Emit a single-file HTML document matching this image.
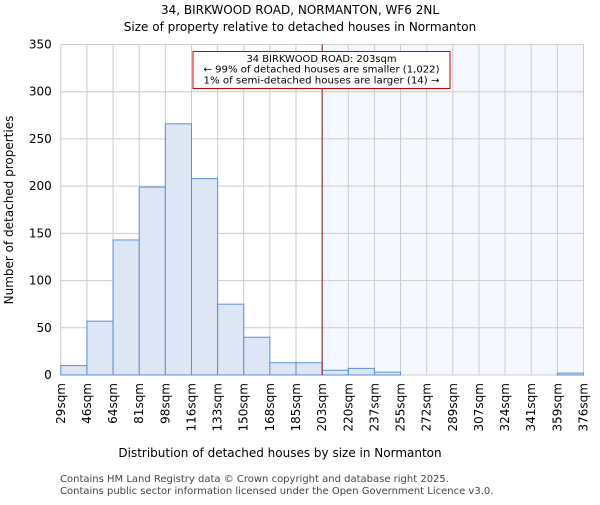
<!DOCTYPE html>
<html><head><meta charset="utf-8"><style>
body{margin:0;background:#fff;}
svg text{font-family:"DejaVu Sans","Liberation Sans",sans-serif;}
</style></head><body>
<svg id="chart" width="600" height="500">
<text x="300" y="14" text-anchor="middle" font-size="12">34, BIRKWOOD ROAD, NORMANTON, WF6 2NL</text>
<text x="300" y="31" text-anchor="middle" font-size="12">Size of property relative to detached houses in Normanton</text>
<g id="plot"></g>
<text x="280" y="457" text-anchor="middle" font-size="12">Distribution of detached houses by size in Normanton</text>
<text transform="translate(13,210) rotate(-90)" text-anchor="middle" font-size="12">Number of detached properties</text>
<text x="60" y="482" font-size="10" fill="#444">Contains HM Land Registry data © Crown copyright and database right 2025.</text>
<text x="60" y="494" font-size="10" fill="#444">Contains public sector information licensed under the Open Government Licence v3.0.</text>
</svg>
<script>
const binLabels=["29sqm","46sqm","64sqm","81sqm","98sqm","116sqm","133sqm","150sqm","168sqm","185sqm","203sqm","220sqm","237sqm","255sqm","272sqm","289sqm","307sqm","324sqm","341sqm","359sqm","376sqm"];
const counts=[10,57,143,199,266,208,75,40,13,13,5,7,3,0,0,0,0,0,0,2];
const yTicks=[0,50,100,150,200,250,300,350];
const markerBin=10;
const NS="http://www.w3.org/2000/svg";
const L=60.8,R=583.5,T=44.5,B=375,yMax=350;
const nb=counts.length, bw=(R-L)/nb;
const x=i=>L+i*bw, y=v=>B-v/yMax*(B-T);
const g=document.getElementById('plot');
function mk(t,a){const e=document.createElementNS(NS,t);for(const k in a)e.setAttribute(k,a[k]);g.appendChild(e);return e;}
let e=mk('rect',{x:x(markerBin),y:T,width:R-x(markerBin),height:B-T,fill:'#f4f7fd'});


for(let i=0;i<=nb;i++){e=mk('line',{x1:x(i),x2:x(i),y1:T,y2:B,stroke:'#ccc','stroke-width':1});

}
yTicks.forEach(v=>{e=mk('line',{x1:L,x2:R,y1:y(v),y2:y(v),stroke:'#ccc','stroke-width':1});


e=mk('text',{x:L-9,y:y(v)+4,'text-anchor':'end','font-size':12});e.textContent=v;

});
counts.forEach((c,i)=>{if(c<=0)return;e=mk('rect',{x:x(i),y:y(c),width:bw,height:B-y(c),fill:'#dce6f4',stroke:'#5b8fd6','stroke-width':1});

});
binLabels.forEach((l,i)=>{e=mk('text',{transform:`translate(${x(i)+4},${B+8}) rotate(-90)`,'text-anchor':'end','font-size':12});e.textContent=l;

});
e=mk('line',{x1:x(markerBin),x2:x(markerBin),y1:T,y2:B,stroke:'#8b1a1a','stroke-width':1});


e=mk('rect',{x:193,y:51.5,width:257,height:37,fill:'#fff',stroke:'#c00','stroke-width':1});


["34 BIRKWOOD ROAD: 203sqm","← 99% of detached houses are smaller (1,022)","1% of semi-detached houses are larger (14) →"].forEach((s,k)=>{
e=mk('text',{x:321.5,y:62+k*10.7,'text-anchor':'middle','font-size':10,'textLength':k?236:150,'lengthAdjust':'spacingAndGlyphs'});e.textContent=s;

});
</script>
</body></html>
